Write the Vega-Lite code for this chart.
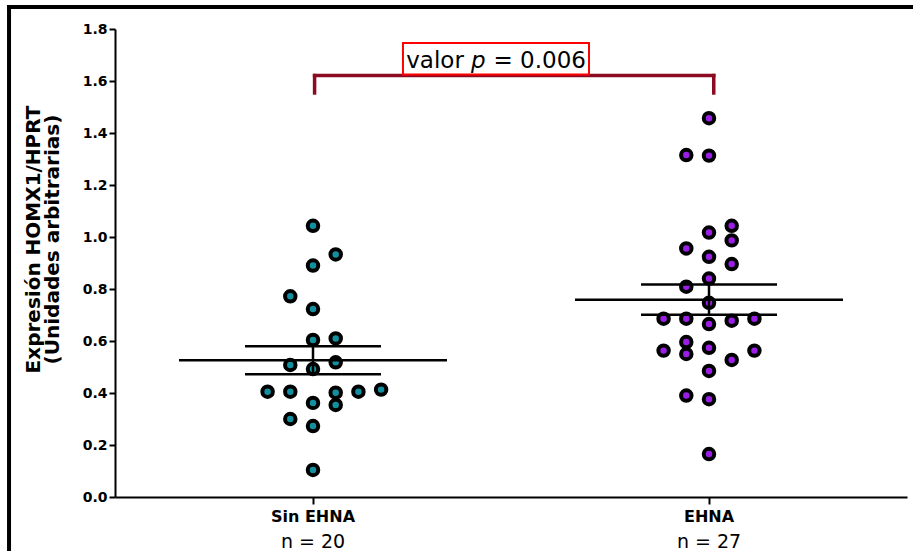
{
  "$schema": "https://vega.github.io/schema/vega-lite/v6.json",
  "width": 792,
  "height": 468,
  "autosize": {"type": "none"},
  "padding": {"left": 115, "top": 29, "right": 6, "bottom": 54},
  "background": "white",
  "config": {
    "view": {"stroke": null},
    "font": "DejaVu Sans",
    "axisY": {
      "domainColor": "black", "domainWidth": 2, "tickColor": "black", "tickWidth": 2, "tickSize": 6,
      "labelFontWeight": "bold", "labelFontSize": 14, "labelColor": "black", "labelPadding": 2,
      "grid": false, "titleFontSize": 20, "titleFontWeight": "bold", "titleColor": "black",
      "titleLineHeight": 19
    },
    "axisX": {
      "domainColor": "black", "domainWidth": 2, "tickColor": "black", "tickWidth": 2, "tickSize": 7,
      "labelFontWeight": "bold", "labelFontSize": 16, "labelColor": "black", "labelPadding": 4,
      "labelAngle": 0, "grid": false
    }
  },
  "datasets": {
    "points": [
      {"group": "Sin EHNA", "col": 0, "value": 1.043},
      {"group": "Sin EHNA", "col": 1, "value": 0.933},
      {"group": "Sin EHNA", "col": 0, "value": 0.890},
      {"group": "Sin EHNA", "col": -1, "value": 0.772},
      {"group": "Sin EHNA", "col": 0, "value": 0.723},
      {"group": "Sin EHNA", "col": 0, "value": 0.604},
      {"group": "Sin EHNA", "col": 1, "value": 0.610},
      {"group": "Sin EHNA", "col": -1, "value": 0.508},
      {"group": "Sin EHNA", "col": 0, "value": 0.492},
      {"group": "Sin EHNA", "col": 1, "value": 0.518},
      {"group": "Sin EHNA", "col": -2, "value": 0.405},
      {"group": "Sin EHNA", "col": -1, "value": 0.405},
      {"group": "Sin EHNA", "col": 1, "value": 0.401},
      {"group": "Sin EHNA", "col": 2, "value": 0.405},
      {"group": "Sin EHNA", "col": 3, "value": 0.413},
      {"group": "Sin EHNA", "col": 0, "value": 0.362},
      {"group": "Sin EHNA", "col": 1, "value": 0.354},
      {"group": "Sin EHNA", "col": -1, "value": 0.300},
      {"group": "Sin EHNA", "col": 0, "value": 0.273},
      {"group": "Sin EHNA", "col": 0, "value": 0.104},
      {"group": "EHNA", "col": 0, "value": 1.457},
      {"group": "EHNA", "col": -1, "value": 1.315},
      {"group": "EHNA", "col": 0, "value": 1.313},
      {"group": "EHNA", "col": 1, "value": 1.043},
      {"group": "EHNA", "col": 0, "value": 1.017},
      {"group": "EHNA", "col": 1, "value": 0.987},
      {"group": "EHNA", "col": -1, "value": 0.956},
      {"group": "EHNA", "col": 0, "value": 0.924},
      {"group": "EHNA", "col": 1, "value": 0.896},
      {"group": "EHNA", "col": 0, "value": 0.840},
      {"group": "EHNA", "col": -1, "value": 0.809},
      {"group": "EHNA", "col": 0, "value": 0.747},
      {"group": "EHNA", "col": -2, "value": 0.686},
      {"group": "EHNA", "col": -1, "value": 0.686},
      {"group": "EHNA", "col": 0, "value": 0.665},
      {"group": "EHNA", "col": 1, "value": 0.678},
      {"group": "EHNA", "col": 2, "value": 0.686},
      {"group": "EHNA", "col": -1, "value": 0.596},
      {"group": "EHNA", "col": -2, "value": 0.563},
      {"group": "EHNA", "col": -1, "value": 0.550},
      {"group": "EHNA", "col": 0, "value": 0.574},
      {"group": "EHNA", "col": 2, "value": 0.563},
      {"group": "EHNA", "col": 1, "value": 0.527},
      {"group": "EHNA", "col": 0, "value": 0.485},
      {"group": "EHNA", "col": -1, "value": 0.390},
      {"group": "EHNA", "col": 0, "value": 0.376},
      {"group": "EHNA", "col": 0, "value": 0.165}
    ],
    "counts": [
      {"group": "Sin EHNA", "n": "n = 20"},
      {"group": "EHNA", "n": "n = 27"}
    ],
    "frame": [
      {"x": -0.1364, "x2": 1.0076, "y": 1.8846, "y2": 1.8846},
      {"x": -0.1338, "x2": -0.1338, "y": 1.892, "y2": -0.2077}
    ],
    "bracket": [
      {"x": 0.252, "x2": 0.756, "y": 1.621, "y2": 1.621},
      {"x": 0.252, "x2": 0.252, "y": 1.621, "y2": 1.554},
      {"x": 0.756, "x2": 0.756, "y": 1.621, "y2": 1.554}
    ],
    "box": [
      {"x": 0.3636, "x2": 0.5985, "y": 1.746, "y2": 1.625}
    ],
    "ptext": [
      {"x": 0.3677, "y": 1.65, "label": "valor"},
      {"x": 0.4495, "y": 1.65, "label": "p"},
      {"x": 0.4779, "y": 1.65, "label": "= 0.006"}
    ]
  },
  "layer": [
    {
      "layer": [
        {
          "data": {"name": "points"},
          "mark": {"type": "point", "filled": true, "stroke": "black", "strokeWidth": 4, "size": 110, "opacity": 1, "strokeOpacity": 1, "fillOpacity": 1},
          "encoding": {
            "x": {"field": "group", "type": "nominal", "sort": ["Sin EHNA", "EHNA"], "title": null,
                  "scale": {"type": "band", "paddingInner": 0, "paddingOuter": 0}},
            "xOffset": {"field": "col", "type": "quantitative", "scale": {"domain": [-8.72, 8.72], "nice": false, "zero": false}},
            "y": {"field": "value", "type": "quantitative",
                  "title": ["Expresión HOMX1/HPRT", "(Unidades arbitrarias)"],
                  "scale": {"domain": [0, 1.8], "nice": false, "zero": false},
                  "axis": {"values": [0, 0.2, 0.4, 0.6, 0.8, 1.0, 1.2, 1.4, 1.6, 1.8], "format": ".1f",
                           "titleX": -76, "titleY": 210, "titleAngle": -90, "titleBaseline": "alphabetic", "titleAlign": "center"}},
            "color": {"field": "group", "type": "nominal",
                      "scale": {"domain": ["Sin EHNA", "EHNA"], "range": ["#12909f", "#9a1ee6"]}, "legend": null}
          }
        },
        {
          "data": {"name": "points"},
          "mark": {"type": "tick", "color": "black", "size": 268, "thickness": 2.5, "opacity": 1},
          "encoding": {
            "x": {"field": "group", "type": "nominal", "sort": ["Sin EHNA", "EHNA"], "title": null},
            "y": {"field": "value", "aggregate": "mean", "type": "quantitative",
                  "title": ["Expresión HOMX1/HPRT", "(Unidades arbitrarias)"],
                  "scale": {"domain": [0, 1.8], "nice": false, "zero": false}}
          }
        },
        {
          "data": {"name": "points"},
          "mark": {"type": "errorbar", "extent": "stderr",
                   "ticks": {"size": 136, "thickness": 2.5, "color": "black", "opacity": 1},
                   "rule": {"strokeWidth": 2.5, "color": "black"}},
          "encoding": {
            "x": {"field": "group", "type": "nominal", "sort": ["Sin EHNA", "EHNA"], "title": null},
            "y": {"field": "value", "type": "quantitative",
                  "title": ["Expresión HOMX1/HPRT", "(Unidades arbitrarias)"],
                  "scale": {"domain": [0, 1.8], "nice": false, "zero": false}}
          }
        },
        {
          "data": {"name": "counts"},
          "mark": {"type": "text", "fontSize": 19, "color": "black", "align": "center", "baseline": "alphabetic"},
          "encoding": {
            "x": {"field": "group", "type": "nominal", "sort": ["Sin EHNA", "EHNA"], "title": null},
            "y": {"datum": -0.196, "type": "quantitative",
                  "title": ["Expresión HOMX1/HPRT", "(Unidades arbitrarias)"],
                  "scale": {"domain": [0, 1.8], "nice": false, "zero": false}},
            "text": {"field": "n"}
          }
        }
      ]
    },
    {
      "layer": [
        {
          "data": {"name": "frame"},
          "mark": {"type": "rule", "color": "black", "strokeWidth": 4},
          "encoding": {
            "x": {"field": "x", "type": "quantitative", "scale": {"domain": [0, 1], "nice": false, "zero": false}, "axis": null},
            "x2": {"field": "x2"},
            "y": {"field": "y", "type": "quantitative", "title": ["Expresión HOMX1/HPRT", "(Unidades arbitrarias)"],
                  "scale": {"domain": [0, 1.8], "nice": false, "zero": false}},
            "y2": {"field": "y2"}
          }
        },
        {
          "data": {"name": "bracket"},
          "mark": {"type": "rule", "color": "#8b0c22", "strokeWidth": 3.5, "strokeCap": "square"},
          "encoding": {
            "x": {"field": "x", "type": "quantitative", "scale": {"domain": [0, 1], "nice": false, "zero": false}, "axis": null},
            "x2": {"field": "x2"},
            "y": {"field": "y", "type": "quantitative", "title": ["Expresión HOMX1/HPRT", "(Unidades arbitrarias)"],
                  "scale": {"domain": [0, 1.8], "nice": false, "zero": false}},
            "y2": {"field": "y2"}
          }
        },
        {
          "data": {"name": "box"},
          "mark": {"type": "rect", "fill": "white", "stroke": "#ff0000", "strokeWidth": 2},
          "encoding": {
            "x": {"field": "x", "type": "quantitative", "scale": {"domain": [0, 1], "nice": false, "zero": false}, "axis": null},
            "x2": {"field": "x2"},
            "y": {"field": "y", "type": "quantitative", "title": ["Expresión HOMX1/HPRT", "(Unidades arbitrarias)"],
                  "scale": {"domain": [0, 1.8], "nice": false, "zero": false}},
            "y2": {"field": "y2"}
          }
        },
        {
          "data": {"name": "ptext"},
          "transform": [{"filter": "datum.label !== 'p'"}],
          "mark": {"type": "text", "fontSize": 23, "color": "black", "align": "left", "baseline": "alphabetic"},
          "encoding": {
            "x": {"field": "x", "type": "quantitative", "scale": {"domain": [0, 1], "nice": false, "zero": false}, "axis": null},
            "y": {"field": "y", "type": "quantitative", "title": ["Expresión HOMX1/HPRT", "(Unidades arbitrarias)"],
                  "scale": {"domain": [0, 1.8], "nice": false, "zero": false}},
            "text": {"field": "label"}
          }
        },
        {
          "data": {"name": "ptext"},
          "transform": [{"filter": "datum.label === 'p'"}],
          "mark": {"type": "text", "fontSize": 23, "fontStyle": "italic", "color": "black", "align": "left", "baseline": "alphabetic"},
          "encoding": {
            "x": {"field": "x", "type": "quantitative", "scale": {"domain": [0, 1], "nice": false, "zero": false}, "axis": null},
            "y": {"field": "y", "type": "quantitative", "title": ["Expresión HOMX1/HPRT", "(Unidades arbitrarias)"],
                  "scale": {"domain": [0, 1.8], "nice": false, "zero": false}},
            "text": {"field": "label"}
          }
        }
      ]
    }
  ],
  "resolve": {"scale": {"x": "independent"}, "axis": {"x": "independent"}}
}
